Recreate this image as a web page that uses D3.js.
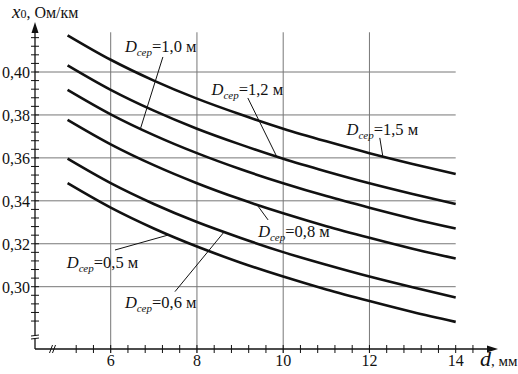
<!DOCTYPE html>
<html><head><meta charset="utf-8">
<script src="https://cdn.jsdelivr.net/npm/d3@7/dist/d3.min.js"></script>
<style>
body{margin:0;background:#fff}
svg{display:block}
</style>
</head><body>
<svg id="c" width="518" height="374"></svg>
<script>
// ---- data ----
const dValues = [5, 6, 7, 8, 9, 10, 11, 12, 13, 14];           // d, мм
const x0_D05 = [0.3482, 0.3368, 0.3271, 0.3187, 0.3113, 0.3047, 0.2987, 0.2933, 0.2882, 0.2836];
const x0_D06 = [0.3596, 0.3482, 0.3385, 0.3301, 0.3228, 0.3161, 0.3102, 0.3047, 0.2997, 0.2950];
const x0_D08 = [0.3777, 0.3663, 0.3566, 0.3482, 0.3408, 0.3342, 0.3282, 0.3228, 0.3177, 0.3131];
const x0_D10 = [0.3917, 0.3803, 0.3706, 0.3622, 0.3548, 0.3482, 0.3422, 0.3368, 0.3317, 0.3271];
const x0_D12 = [0.4031, 0.3917, 0.3820, 0.3736, 0.3663, 0.3596, 0.3537, 0.3482, 0.3432, 0.3385];
const x0_D15 = [0.4171, 0.4057, 0.3960, 0.3876, 0.3803, 0.3736, 0.3677, 0.3622, 0.3572, 0.3525];
const seriesLabels = ["0,5", "0,6", "0,8", "1,0", "1,2", "1,5"];
const yTicks = [0.30, 0.32, 0.34, 0.36, 0.38, 0.40];
const yTickLabels = ["0,30", "0,32", "0,34", "0,36", "0,38", "0,40"];
const xTicks = [6, 8, 10, 12, 14];
const xTickLabels = ["6", "8", "10", "12", "14"];
const xGrid = [6, 8, 10, 12];

// ---- layout ----
const FONT = '"Liberation Serif"';
const svg = d3.select("#c");
const x = d3.scaleLinear().domain([6, 14]).range([110.7, 455.7]);
const y = d3.scaleLinear().domain([0.30, 0.40]).range([286.7, 72]);
const axX = 35, axY = 349, arrowX = 498, arrowY = 22;
const ink = "#111";

const allSeries = [x0_D05, x0_D06, x0_D08, x0_D10, x0_D12, x0_D15];

// gridlines
const g = svg.append("g");
g.selectAll("line.h").data(yTicks).join("line")
  .attr("x1", axX).attr("x2", x(14))
  .attr("y1", d => y(d)).attr("y2", d => y(d))
  .attr("stroke", "#777").attr("stroke-width", 1);
g.selectAll("line.v").data(xGrid).join("line")
  .attr("x1", d => x(d)).attr("x2", d => x(d))
  .attr("y1", y(0.4185)).attr("y2", axY + 4)
  .attr("stroke", "#777").attr("stroke-width", 1);

// axes
const ax = svg.append("g").attr("stroke", ink).attr("stroke-width", 1.3);
ax.append("line").attr("x1", axX).attr("x2", arrowX - 6).attr("y1", axY).attr("y2", axY);
ax.append("line").attr("x1", axX).attr("x2", axX).attr("y1", axY).attr("y2", arrowY + 6);
svg.append("path").attr("d", `M${arrowX},${axY} L${arrowX-11},${axY-3.5} L${arrowX-11},${axY+3.5} Z`).attr("fill", ink);
svg.append("path").attr("d", `M${axX},${arrowY} L${axX-3.5},${arrowY+11} L${axX+3.5},${arrowY+11} Z`).attr("fill", ink);

// minor ticks
const yMinor = d3.range(0.284, 0.4181, 0.004);
ax.selectAll("line.ym").data(yMinor).join("line")
  .attr("x1", axX - 4).attr("x2", axX + 4)
  .attr("y1", d => y(d)).attr("y2", d => y(d)).attr("stroke-width", 1);
const xMinor = d3.range(5.2, 14.45, 0.4);
ax.selectAll("line.xm").data(xMinor).join("line")
  .attr("x1", d => x(d)).attr("x2", d => x(d))
  .attr("y1", axY - 4).attr("y2", axY + 4).attr("stroke-width", 1);

// axis breaks
const brk = svg.append("g").attr("stroke", ink).attr("stroke-width", 1);
brk.append("rect").attr("x", axX - 4).attr("y", 335.5).attr("width", 8).attr("height", 3).attr("fill", "#fff").attr("stroke", "none");
brk.append("line").attr("x1", axX - 4).attr("x2", axX + 4).attr("y1", 336).attr("y2", 335);
brk.append("line").attr("x1", axX - 4).attr("x2", axX + 4).attr("y1", 339).attr("y2", 338);
brk.append("line").attr("x1", 49.5).attr("x2", 52.5).attr("y1", axY + 4).attr("y2", axY - 4);
brk.append("line").attr("x1", 52.5).attr("x2", 55.5).attr("y1", axY + 4).attr("y2", axY - 4);

// tick labels
svg.selectAll("text.yl").data(yTicks).join("text")
  .attr("x", 30).attr("y", d => y(d) + 6)
  .attr("text-anchor", "end").attr("font-size", 16).attr("fill", ink)
  .style("font-family", FONT)
  .text((d, i) => yTickLabels[i]);
svg.selectAll("text.xl").data(xTicks).join("text")
  .attr("x", d => x(d)).attr("y", 366)
  .attr("text-anchor", "middle").attr("font-size", 16).attr("fill", ink)
  .style("font-family", FONT)
  .text((d, i) => xTickLabels[i]);

// axis titles
const yt = svg.append("text").attr("x", 12).attr("y", 18).attr("fill", ink).style("font-family", FONT);
yt.append("tspan").attr("font-style", "italic").attr("font-size", 19).text("x");
yt.append("tspan").attr("font-size", 12).text("0");
yt.append("tspan").attr("font-size", 16).text(", Ом/км");
const xt = svg.append("text").attr("x", 480).attr("y", 366).attr("fill", ink).style("font-family", FONT);
xt.append("tspan").attr("font-style", "italic").attr("font-size", 22).text("d");
xt.append("tspan").attr("font-size", 15).text(", мм");

// curves
const line = d3.line().x((v, i) => x(dValues[i])).y(v => y(v)).curve(d3.curveMonotoneX);
svg.selectAll("path.curve").data(allSeries).join("path")
  .attr("d", line).attr("fill", "none").attr("stroke", ink).attr("stroke-width", 2.6);

// annotations: series index -> text anchor (d, v), leader start (d, v), leader end d on curve
const annPos = {
  3: {t: [6.33, 0.4093], s: [7.21, 0.4070], e: 6.69},
  4: {t: [8.34, 0.3893], s: [9.18, 0.3879], e: 9.85},
  5: {t: [11.47, 0.3707], s: [12.24, 0.3693], e: 12.31},
  2: {t: [9.42, 0.3231], s: [9.65, 0.3311], e: 9.39},
  0: {t: [4.98, 0.3087], s: [6.10, 0.3171], e: 7.35},
  1: {t: [6.33, 0.2901], s: [7.49, 0.2977], e: 8.63}
};
function valueAt(series, d) {
  const i = Math.min(dValues.length - 2, Math.max(0, Math.floor(d - dValues[0])));
  const t = (d - dValues[i]) / (dValues[i + 1] - dValues[i]);
  return series[i] + t * (series[i + 1] - series[i]);
}
Object.keys(annPos).forEach(k => {
  const a = annPos[k], s = allSeries[k];
  svg.append("line")
    .attr("x1", x(a.s[0])).attr("y1", y(a.s[1]))
    .attr("x2", x(a.e)).attr("y2", y(valueAt(s, a.e)))
    .attr("stroke", ink).attr("stroke-width", 1);
  const t = svg.append("text").attr("x", x(a.t[0])).attr("y", y(a.t[1])).attr("font-size", 16.5)
    .attr("fill", ink).style("font-family", FONT);
  t.append("tspan").attr("font-style", "italic").text("D");
  t.append("tspan").attr("font-style", "italic").attr("font-size", 11).attr("dy", 4).text("сер");
  t.append("tspan").attr("dy", -4).text("=" + seriesLabels[k] + " м");
});
</script>
</body></html>
